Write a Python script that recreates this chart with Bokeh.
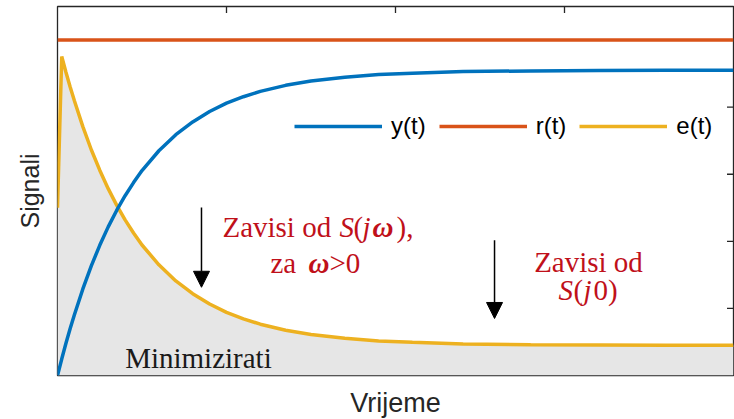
from bokeh.plotting import figure
from bokeh.models import (Range1d, FixedTicker, Label, Arrow,
                          NormalHead, Legend, LegendItem)
from bokeh.embed import file_html
from bokeh.resources import INLINE

# ---- data ----
t = [0.0, 0.025, 0.05, 0.075, 0.1, 0.15, 0.2, 0.25, 0.3, 0.35, 0.4, 0.45, 0.5,
     0.6, 0.7, 0.8, 0.9, 1.0, 1.1, 1.2, 1.35, 1.5, 1.7, 1.9, 2.1, 2.4, 2.8,
     3.2, 3.6, 4.0]
y_vals = [0.0, 0.049, 0.096, 0.140, 0.181, 0.258, 0.327, 0.388, 0.443, 0.492,
          0.536, 0.575, 0.611, 0.670, 0.718, 0.756, 0.787, 0.812, 0.831, 0.847,
          0.865, 0.878, 0.889, 0.897, 0.901, 0.906, 0.908, 0.909, 0.910, 0.910]
e_vals = [0.5, 0.951, 0.904, 0.860, 0.819, 0.742, 0.673, 0.612, 0.557, 0.508,
          0.464, 0.425, 0.389, 0.330, 0.282, 0.244, 0.213, 0.188, 0.169, 0.153,
          0.135, 0.122, 0.111, 0.103, 0.099, 0.094, 0.092, 0.091, 0.090, 0.090]
r_t = [0.0, 4.0]
r_vals = [1.0, 1.0]
top_ticks = [1, 2, 3]
right_ticks = [0.2, 0.4, 0.6, 0.8]
series_names = ["y(t)", "r(t)", "e(t)"]
X_MAX = 4.0
Y_MAX = 1.1

BLUE = "#0072BD"
RED = "#D95319"
YELLOW = "#EDB120"
ANN = "#c0101a"
AXC = "#262626"
SANS = "Liberation Sans"
SERIF = "Liberation Serif"

p = figure(frame_width=676, frame_height=369, output_backend="svg",
           toolbar_location=None, x_range=Range1d(0, X_MAX),
           y_range=Range1d(0, Y_MAX),
           min_border_left=57, min_border_right=1, min_border_top=6,
           min_border_bottom=44)
p.grid.visible = False
p.outline_line_color = AXC
p.outline_line_width = 1.3

for ax in (p.xaxis[0], p.yaxis[0]):
    ax.ticker = FixedTicker(ticks=[])
    ax.major_tick_in = 0
    ax.major_tick_out = 0
    ax.minor_tick_in = 0
    ax.minor_tick_out = 0
    ax.axis_line_color = None
    ax.axis_label_text_font = SANS
    ax.axis_label_text_font_style = "normal"
    ax.axis_label_text_color = AXC
p.yaxis[0].axis_label = "Signali"
p.xaxis[0].axis_label = "Vrijeme"
p.yaxis[0].axis_label_text_font_size = "25px"
p.xaxis[0].axis_label_text_font_size = "27px"
p.yaxis[0].axis_label_standoff = 14
p.xaxis[0].axis_label_standoff = 12

# shaded area under e(t)
p.varea(x=t, y1=0, y2=e_vals, fill_color="#e6e6e6")

re = p.line(t, e_vals, line_color=YELLOW, line_width=3.5)
rr = p.line(r_t, r_vals, line_color=RED, line_width=3.5)
ry = p.line(t, y_vals, line_color=BLUE, line_width=3.5)

# inward ticks on the top and right edges (clipped to the frame)
p.rect(x=top_ticks, y=[Y_MAX] * len(top_ticks), width=1.3, height=13,
       width_units="screen", height_units="screen",
       fill_color=AXC, line_color=None)
p.rect(x=[X_MAX] * len(right_ticks), y=right_ticks, width=13, height=1.3,
       width_units="screen", height_units="screen",
       fill_color=AXC, line_color=None)

legend = Legend(items=[LegendItem(label=series_names[0], renderers=[ry]),
                       LegendItem(label=series_names[1], renderers=[rr]),
                       LegendItem(label=series_names[2], renderers=[re])],
                orientation="horizontal", location=(237, 235),
                glyph_width=88, glyph_height=20, label_standoff=9,
                spacing=13, padding=0, margin=0,
                border_line_color=None, background_fill_alpha=0,
                label_text_font=SANS, label_text_font_size="24px",
                label_text_color="black")
p.add_layout(legend)


def lab(x, y, text, style="normal", color=ANN, align="left", size="29px"):
    p.add_layout(Label(x=x, y=y, text=text, text_font=SERIF,
                       text_font_size=size, text_font_style=style,
                       text_color=color, text_align=align,
                       text_baseline="alphabetic"))


# annotation 1
lab(0.976, 0.442, "Zavisi od ")
lab(1.669, 0.442, "S", "italic")
lab(1.751, 0.442, "(")
lab(1.805, 0.442, "j", "italic")
lab(1.864, 0.442, "\u03c9", "bold italic")
lab(2.006, 0.442, "),")
lab(1.260, 0.334, "za ")
lab(1.485, 0.334, "\u03c9", "bold italic")
lab(1.609, 0.334, ">0")

# annotation 2
lab(3.142, 0.337, "Zavisi od", align="center")
lab(2.964, 0.254, "S", "italic")
lab(3.053, 0.254, "(")
lab(3.112, 0.254, "j", "italic")
lab(3.172, 0.254, "0)")

# shaded region label
lab(0.834, 0.051, "Minimizirati", color="#1a1a1a", align="center")

head = dict(size=16, fill_color="black", line_color="black")
p.add_layout(Arrow(x_start=0.852, y_start=0.501, x_end=0.852, y_end=0.263,
                   line_width=1.5, line_color="black", end=NormalHead(**head)))
p.add_layout(Arrow(x_start=2.586, y_start=0.403, x_end=2.586, y_end=0.170,
                   line_width=1.5, line_color="black", end=NormalHead(**head)))

open("out.html", "w").write(file_html(p, INLINE))
